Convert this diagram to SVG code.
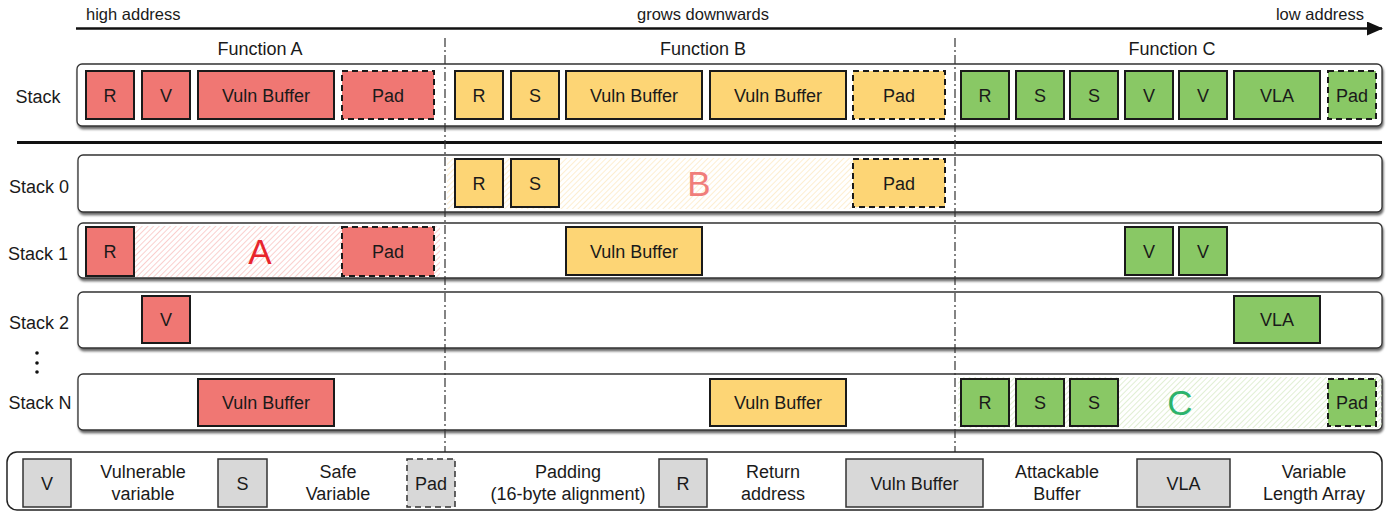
<svg xmlns="http://www.w3.org/2000/svg" width="1388" height="512" viewBox="0 0 1388 512">
<defs>
<style>
text{font-family:"Liberation Sans",Arial,sans-serif;fill:#1a1a1a}
.t{font-size:18px;text-anchor:middle}
.h{font-size:16.5px}
.lg{font-size:18px;text-anchor:middle}
.big{font-size:35px;text-anchor:middle}
.row{fill:#fff;stroke:#333;stroke-width:1.3;filter:url(#sh)}
.r{fill:#F07773;stroke:#1a1a1a;stroke-width:2}
.y{fill:#FDD575;stroke:#1a1a1a;stroke-width:2}
.g{fill:#89C865;stroke:#1a1a1a;stroke-width:2}
.gr{fill:#D8D8D8;stroke:#333;stroke-width:1.5}
.d{stroke-dasharray:6 4}
.vl{stroke:#333;stroke-width:1.2;stroke-dasharray:9 3 2 3;fill:none}
</style>
<filter id="sh" x="-2%" y="-20%" width="104%" height="150%">
<feDropShadow dx="1" dy="2.5" stdDeviation="1.2" flood-color="#000" flood-opacity="0.6"/>
</filter>
<pattern id="hA" width="4" height="4" patternUnits="userSpaceOnUse" patternTransform="rotate(45)">
<line x1="0" y1="0" x2="0" y2="4" stroke="#F6B0AD" stroke-width="1.2"/>
</pattern>
<pattern id="hB" width="4" height="4" patternUnits="userSpaceOnUse" patternTransform="rotate(45)">
<line x1="0" y1="0" x2="0" y2="4" stroke="#FBE3B2" stroke-width="1.2"/>
</pattern>
<pattern id="hC" width="4" height="4" patternUnits="userSpaceOnUse" patternTransform="rotate(45)">
<line x1="0" y1="0" x2="0" y2="4" stroke="#CDE5B6" stroke-width="1.2"/>
</pattern>
<marker id="arr" markerWidth="16" markerHeight="14" refX="15" refY="7" orient="auto" markerUnits="userSpaceOnUse">
<path d="M0,0 L16,7 L0,14 Z" fill="#111"/>
</marker>
</defs>

<g id="connectors">
<line x1="76" y1="28.5" x2="1382" y2="28.5" stroke="#111" stroke-width="2.5" marker-end="url(#arr)"/>
</g>

<g id="header">
<text class="h" x="86" y="20">high address</text>
<text class="h" x="703" y="20" text-anchor="middle">grows downwards</text>
<text class="h" x="1364" y="20" text-anchor="end">low address</text>
<text class="t" x="260" y="55">Function A</text>
<text class="t" x="703" y="55">Function B</text>
<text class="t" x="1172" y="55">Function C</text>
</g>

<g id="row-labels">
<text class="t" x="38" y="103">Stack</text>
<text class="t" x="39" y="193">Stack 0</text>
<text class="t" x="38" y="260">Stack 1</text>
<text class="t" x="39" y="329">Stack 2</text>
<text class="t" x="40" y="409">Stack N</text>
<circle cx="37" cy="353" r="1.8" fill="#111"/>
<circle cx="37" cy="363" r="1.8" fill="#111"/>
<circle cx="37" cy="372" r="1.8" fill="#111"/>
</g>

<g id="row-boxes">
<rect id="stack" class="row" x="77" y="64" width="1305" height="62" rx="5"/>
<rect id="stack0" class="row" x="78" y="155" width="1304" height="57" rx="5"/>
<rect id="stack1" class="row" x="78" y="223" width="1304" height="55" rx="5"/>
<rect id="stack2" class="row" x="78" y="292" width="1304" height="56" rx="5"/>
<rect id="stackN" class="row" x="78" y="374" width="1304" height="56" rx="5"/>
</g>

<line x1="17" y1="142.5" x2="1382" y2="142.5" stroke="#111" stroke-width="3"/>

<g id="guides">
<line class="vl" x1="445" y1="38" x2="445" y2="452"/>
<line class="vl" x1="955" y1="38" x2="955" y2="452"/>
</g>

<g id="hatches">
<rect x="86" y="226" width="354" height="51" fill="url(#hA)"/>
<rect x="447" y="158" width="498" height="51" fill="url(#hB)"/>
<rect x="958" y="377" width="424" height="51" fill="url(#hC)"/>
<text class="big" x="260" y="264" style="fill:#E8252C">A</text>
<text class="big" x="699" y="196" style="fill:#F07E7B">B</text>
<text class="big" x="1180" y="415" style="fill:#2DB36C">C</text>
</g>

<g id="stack-row">
<g id="s-a-r"><rect class="r" x="86" y="71" width="48" height="48"/><text class="t" x="110" y="101.5">R</text></g>
<g id="s-a-v"><rect class="r" x="142" y="71" width="48" height="48"/><text class="t" x="166" y="101.5">V</text></g>
<g id="s-a-vb"><rect class="r" x="198" y="71" width="136" height="48"/><text class="t" x="266" y="101.5">Vuln Buffer</text></g>
<g id="s-a-pad"><rect class="r d" x="342" y="71" width="92" height="48"/><text class="t" x="388" y="101.5">Pad</text></g>
<g id="s-b-r"><rect class="y" x="455" y="71" width="48" height="48"/><text class="t" x="479" y="101.5">R</text></g>
<g id="s-b-s"><rect class="y" x="511" y="71" width="48" height="48"/><text class="t" x="535" y="101.5">S</text></g>
<g id="s-b-vb1"><rect class="y" x="566" y="71" width="136" height="48"/><text class="t" x="634" y="101.5">Vuln Buffer</text></g>
<g id="s-b-vb2"><rect class="y" x="710" y="71" width="136" height="48"/><text class="t" x="778" y="101.5">Vuln Buffer</text></g>
<g id="s-b-pad"><rect class="y d" x="853" y="71" width="92" height="48"/><text class="t" x="899" y="101.5">Pad</text></g>
<g id="s-c-r"><rect class="g" x="961" y="71" width="48" height="48"/><text class="t" x="985" y="101.5">R</text></g>
<g id="s-c-s1"><rect class="g" x="1016" y="71" width="48" height="48"/><text class="t" x="1040" y="101.5">S</text></g>
<g id="s-c-s2"><rect class="g" x="1070" y="71" width="48" height="48"/><text class="t" x="1094" y="101.5">S</text></g>
<g id="s-c-v1"><rect class="g" x="1125" y="71" width="48" height="48"/><text class="t" x="1149" y="101.5">V</text></g>
<g id="s-c-v2"><rect class="g" x="1179" y="71" width="48" height="48"/><text class="t" x="1203" y="101.5">V</text></g>
<g id="s-c-vla"><rect class="g" x="1234" y="71" width="86" height="48"/><text class="t" x="1277" y="101.5">VLA</text></g>
<g id="s-c-pad"><rect class="g d" x="1328" y="71" width="48" height="48"/><text class="t" x="1352" y="101.5">Pad</text></g>
</g>

<g id="stack0-row">
<g id="s0-r"><rect class="y" x="455" y="159" width="48" height="48"/><text class="t" x="479" y="189.5">R</text></g>
<g id="s0-s"><rect class="y" x="511" y="159" width="48" height="48"/><text class="t" x="535" y="189.5">S</text></g>
<g id="s0-pad"><rect class="y d" x="853" y="159" width="92" height="48"/><text class="t" x="899" y="189.5">Pad</text></g>
</g>

<g id="stack1-row">
<g id="s1-r"><rect class="r" x="86" y="227" width="48" height="49"/><text class="t" x="110" y="258">R</text></g>
<g id="s1-pad"><rect class="r d" x="342" y="227" width="92" height="49"/><text class="t" x="388" y="258">Pad</text></g>
<g id="s1-vb"><rect class="y" x="566" y="227" width="136" height="48"/><text class="t" x="634" y="258">Vuln Buffer</text></g>
<g id="s1-v1"><rect class="g" x="1125" y="227" width="48" height="48"/><text class="t" x="1149" y="258">V</text></g>
<g id="s1-v2"><rect class="g" x="1179" y="227" width="48" height="48"/><text class="t" x="1203" y="258">V</text></g>
</g>

<g id="stack2-row">
<g id="s2-v"><rect class="r" x="142" y="296" width="48" height="47"/><text class="t" x="166" y="326">V</text></g>
<g id="s2-vla"><rect class="g" x="1234" y="296" width="86" height="47"/><text class="t" x="1277" y="326">VLA</text></g>
</g>

<g id="stackN-row">
<g id="sn-vb-a"><rect class="r" x="198" y="379" width="136" height="47"/><text class="t" x="266" y="409">Vuln Buffer</text></g>
<g id="sn-vb-b"><rect class="y" x="710" y="379" width="136" height="47"/><text class="t" x="778" y="409">Vuln Buffer</text></g>
<g id="sn-r"><rect class="g" x="961" y="379" width="48" height="47"/><text class="t" x="985" y="409">R</text></g>
<g id="sn-s1"><rect class="g" x="1016" y="379" width="48" height="47"/><text class="t" x="1040" y="409">S</text></g>
<g id="sn-s2"><rect class="g" x="1070" y="379" width="48" height="47"/><text class="t" x="1094" y="409">S</text></g>
<g id="sn-pad"><rect class="g d" x="1328" y="379" width="48" height="47"/><text class="t" x="1352" y="409">Pad</text></g>
</g>

<g id="legend">
<rect x="7" y="452" width="1375" height="58" rx="10" fill="#fff" stroke="#222" stroke-width="1.5"/>
<g id="lg-v"><rect class="gr" x="23" y="459" width="48" height="48"/><text class="lg" x="47" y="489.5">V</text>
<text class="lg" x="143" y="478">Vulnerable</text><text class="lg" x="143" y="500">variable</text></g>
<g id="lg-s"><rect class="gr" x="218" y="459" width="49" height="48"/><text class="lg" x="242.5" y="489.5">S</text>
<text class="lg" x="338" y="478">Safe</text><text class="lg" x="338" y="500">Variable</text></g>
<g id="lg-pad"><rect class="gr d" x="407" y="459" width="48" height="48"/><text class="lg" x="431" y="489.5">Pad</text>
<text class="lg" x="568" y="478">Padding</text><text class="lg" x="568" y="500">(16-byte alignment)</text></g>
<g id="lg-r"><rect class="gr" x="659" y="459" width="48" height="48"/><text class="lg" x="683" y="489.5">R</text>
<text class="lg" x="773" y="478">Return</text><text class="lg" x="773" y="500">address</text></g>
<g id="lg-vb"><rect class="gr" x="846" y="459" width="137" height="48"/><text class="lg" x="914.5" y="489.5">Vuln Buffer</text>
<text class="lg" x="1057" y="478">Attackable</text><text class="lg" x="1057" y="500">Buffer</text></g>
<g id="lg-vla"><rect class="gr" x="1137" y="459" width="93" height="48"/><text class="lg" x="1183.5" y="489.5">VLA</text>
<text class="lg" x="1314" y="478">Variable</text><text class="lg" x="1314" y="500">Length Array</text></g>
</g>
</svg>
